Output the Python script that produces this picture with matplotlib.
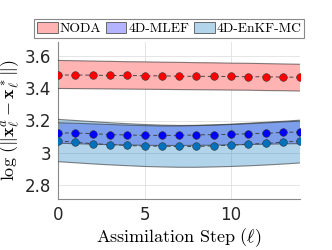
import matplotlib.pyplot as plt
from matplotlib.patches import Patch

# 同化步数
steps = list(range(15))

# 各方法的均值
noda_mean = [3.484, 3.484, 3.483, 3.481, 3.481, 3.479, 3.479, 3.476,
             3.476, 3.475, 3.475, 3.473, 3.473, 3.471, 3.470]
noda_hi = [3.575, 3.573, 3.571, 3.569, 3.567, 3.566, 3.564, 3.563,
           3.561, 3.560, 3.558, 3.557, 3.555, 3.553, 3.551]
noda_lo = [3.400, 3.399, 3.398, 3.397, 3.396, 3.395, 3.394, 3.393,
           3.392, 3.391, 3.390, 3.389, 3.387, 3.386, 3.384]

mlef_mean = [3.122, 3.122, 3.118, 3.112, 3.110, 3.107, 3.107, 3.107,
             3.110, 3.112, 3.113, 3.118, 3.120, 3.126, 3.128]
mlef_hi = [3.186, 3.183, 3.179, 3.175, 3.171, 3.168, 3.166, 3.166,
           3.168, 3.171, 3.175, 3.180, 3.185, 3.191, 3.196]
mlef_lo = [3.058, 3.055, 3.052, 3.049, 3.047, 3.045, 3.044, 3.044,
           3.045, 3.046, 3.048, 3.050, 3.052, 3.054, 3.056]

enkf_mean = [3.072, 3.065, 3.055, 3.050, 3.044, 3.040, 3.040, 3.038,
             3.038, 3.042, 3.046, 3.053, 3.057, 3.065, 3.072]
enkf_hi = [3.207, 3.200, 3.193, 3.186, 3.180, 3.175, 3.171, 3.169,
           3.170, 3.173, 3.177, 3.183, 3.189, 3.195, 3.202]
enkf_lo = [2.943, 2.936, 2.929, 2.923, 2.918, 2.913, 2.910, 2.908,
           2.908, 2.910, 2.913, 2.917, 2.922, 2.928, 2.935]

labels = ['NODA', '4D-MLEF', '4D-EnKF-MC']

plt.rcParams['mathtext.fontset'] = 'cm'
fig = plt.figure(figsize=(3.32, 2.5), dpi=100)
ax = fig.add_axes([0.175, 0.204, 0.729, 0.628])

series = [
    (noda_mean, noda_hi, noda_lo, '#ff0000', '#ffb3b3'),
    (mlef_mean, mlef_hi, mlef_lo, '#0000ff', '#0000ff'),
    (enkf_mean, enkf_hi, enkf_lo, '#0072bd', '#0072bd'),
]
alphas = [1.0, 0.3, 0.3]

for (m, hi, lo, mc, fc), a in zip(series, alphas):
    ax.fill_between(steps, lo, hi, facecolor=fc, alpha=a, lw=0, zorder=2)
    ax.plot(steps, hi, color='#333333', lw=0.8, alpha=0.6, zorder=3)
    ax.plot(steps, lo, color='#333333', lw=0.8, alpha=0.6, zorder=3)

for m, hi, lo, mc, fc in series:
    ax.plot(steps, m, ls=(0, (4, 3)), color='#444444', lw=0.7, zorder=4)
    ax.plot(steps, m, ls='none', marker='o', ms=5.5, mfc=mc,
            mec='#333333', mew=0.4, zorder=5)

ax.set_xlim(0, 14)
ax.set_ylim(2.71, 3.69)
ax.set_xticks([0, 5, 10])
ax.set_yticks([2.8, 3.0, 3.2, 3.4, 3.6])
ax.set_yticklabels(['2.8', '3', '3.2', '3.4', '3.6'])
ax.grid(True, color='#e0e0e0', lw=0.6, zorder=0)
ax.set_axisbelow(True)
for s in ['top', 'right']:
    ax.spines[s].set_visible(False)
for s in ['left', 'bottom']:
    ax.spines[s].set_color('#888888')
    ax.spines[s].set_linewidth(0.8)
ax.tick_params(length=0, labelsize=12, labelcolor='#262626', pad=5)

ax.set_xlabel(r'$\mathrm{Assimilation\ Step}\ (\ell)$', fontsize=13, labelpad=2)
ax.set_ylabel(r'$\log\,(\|\mathbf{x}^a_\ell - \mathbf{x}^*_\ell\|)$', fontsize=13, labelpad=2)

handles = [Patch(facecolor='#ffb3b3', edgecolor='#555555', lw=0.6),
           Patch(facecolor='#b3b3ff', edgecolor='#555555', lw=0.6),
           Patch(facecolor='#b2d5eb', edgecolor='#555555', lw=0.6)]
leg = fig.legend(handles, labels, loc='center', bbox_to_anchor=(0.51, 0.886),
                 ncol=3, fancybox=False, framealpha=1, edgecolor='#888888',
                 prop={'family': 'cmr10', 'size': 9.8}, handlelength=1.5,
                 handleheight=0.85, handletextpad=0.15, columnspacing=0.35,
                 borderpad=0.2, borderaxespad=0)
leg.get_frame().set_linewidth(0.8)

fig.savefig('out.png', dpi=100)
